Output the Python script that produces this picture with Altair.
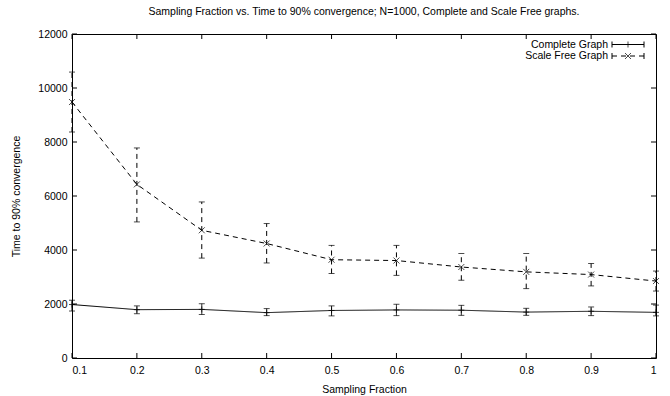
import altair as alt
import pandas as pd

fractions = [0.1, 0.2, 0.3, 0.4, 0.5, 0.6, 0.7, 0.8, 0.9, 1.0]
complete_mean = [1980, 1790, 1800, 1680, 1760, 1780, 1770, 1700, 1730, 1690]
complete_low = [1740, 1640, 1610, 1570, 1560, 1570, 1580, 1580, 1570, 1560]
complete_high = [2140, 1930, 2010, 1830, 1930, 1990, 1950, 1840, 1890, 1960]
sf_mean = [9480, 6430, 4730, 4240, 3640, 3610, 3370, 3190, 3090, 2850]
sf_low = [8370, 5040, 3700, 3520, 3130, 3060, 2880, 2570, 2670, 2480]
sf_high = [10590, 7780, 5780, 4980, 4170, 4170, 3870, 3870, 3500, 3220]
series_names = ["Complete Graph", "Scale Free Graph"]
x_ticks = [0.1, 0.2, 0.3, 0.4, 0.5, 0.6, 0.7, 0.8, 0.9, 1.0]
y_ticks = [0, 2000, 4000, 6000, 8000, 10000, 12000]

FONT = "Liberation Sans"
FS = 10.5
W, H = 584, 324
PLUS = "M-1,0L1,0M0,-1L0,1"
CROSS = "M-1,-1L1,1M-1,1L1,-1"

rows = []
for i, f in enumerate(fractions):
    rows.append(dict(f=f, s=series_names[0], m=complete_mean[i], lo=complete_low[i], hi=complete_high[i]))
    rows.append(dict(f=f, s=series_names[1], m=sf_mean[i], lo=sf_low[i], hi=sf_high[i]))
df = pd.DataFrame(rows)

xs = alt.Scale(domain=[0.1, 1.0], nice=False, zero=False)
ys = alt.Scale(domain=[0, 12000], nice=False)
dash = alt.StrokeDash("s:N", scale=alt.Scale(domain=series_names, range=[[1, 0], [5, 4]]), legend=None)

xaxis = alt.Axis(values=x_ticks, labelExpr="datum.value == 1 ? '1' : format(datum.value, '.1f')",
                 title="Sampling Fraction", labelPadding=7, titleY=34, titleBaseline="alphabetic",
                 ticks=False, domain=False, grid=False)
yaxis = alt.Axis(values=y_ticks, format="d", title="Time to 90% convergence", labelPadding=5,
                 titleX=-56, titleY=H / 2, titleBaseline="middle", titleAlign="center",
                 ticks=False, domain=False, grid=False)

base = alt.Chart(df)
line = base.mark_line(color="black", strokeWidth=1).encode(
    x=alt.X("f:Q", scale=xs, axis=xaxis), y=alt.Y("m:Q", scale=ys, axis=yaxis), strokeDash=dash,
    detail="s:N")
err = base.mark_rule(color="black", strokeWidth=1).encode(
    x=alt.X("f:Q", scale=xs), y=alt.Y("lo:Q", scale=ys), y2="hi:Q", strokeDash=dash)
cap_lo = base.mark_tick(color="black", orient="horizontal", size=6, thickness=1).encode(
    x=alt.X("f:Q", scale=xs), y=alt.Y("lo:Q", scale=ys))
cap_hi = base.mark_tick(color="black", orient="horizontal", size=6, thickness=1).encode(
    x=alt.X("f:Q", scale=xs), y=alt.Y("hi:Q", scale=ys))
pts = base.mark_point(color="black", filled=False, strokeWidth=1, size=36).encode(
    x=alt.X("f:Q", scale=xs), y=alt.Y("m:Q", scale=ys),
    shape=alt.Shape("s:N", scale=alt.Scale(domain=series_names, range=[PLUS, CROSS]), legend=None))

# inward mirrored ticks
xt = pd.DataFrame({"t": x_ticks})
yt = pd.DataFrame({"t": y_ticks})
tb = alt.Chart(xt).mark_rule(color="black", strokeWidth=1).encode(
    x=alt.X("t:Q", scale=xs), y=alt.value(H), y2=alt.value(H - 5))
tt = alt.Chart(xt).mark_rule(color="black", strokeWidth=1).encode(
    x=alt.X("t:Q", scale=xs), y=alt.value(0), y2=alt.value(5))
tl = alt.Chart(yt).mark_rule(color="black", strokeWidth=1).encode(
    y=alt.Y("t:Q", scale=ys), x=alt.value(0), x2=alt.value(5))
tr = alt.Chart(yt).mark_rule(color="black", strokeWidth=1).encode(
    y=alt.Y("t:Q", scale=ys), x=alt.value(W), x2=alt.value(W - 5))

# key
r1, r2 = 10.5, 22
kx0, kx1 = 540, 572
kc = (kx0 + kx1) / 2
leg = []
for name, ry, d, shp in [(series_names[0], r1, [1, 0], PLUS), (series_names[1], r2, [5, 4], CROSS)]:
    kd = pd.DataFrame({"s": [name]})
    k = alt.Chart(kd)
    leg.append(k.mark_text(align="right", baseline="middle", font=FONT, fontSize=FS, color="black").encode(
        text="s:N", x=alt.value(kx0 - 4), y=alt.value(ry)))
    leg.append(k.mark_rule(color="black", strokeWidth=1, strokeDash=d).encode(
        x=alt.value(kx0), x2=alt.value(kx1), y=alt.value(ry)))
    leg.append(k.mark_rule(color="black", strokeWidth=1).encode(
        x=alt.value(kx0), y=alt.value(ry - 3), y2=alt.value(ry + 3)))
    leg.append(k.mark_rule(color="black", strokeWidth=1).encode(
        x=alt.value(kx1), y=alt.value(ry - 3), y2=alt.value(ry + 3)))
    leg.append(k.mark_point(color="black", filled=False, strokeWidth=1, size=36, shape=shp).encode(
        x=alt.value(kc), y=alt.value(ry)))

chart = alt.layer(line, err, cap_lo, cap_hi, pts, tb, tt, tl, tr, *leg).properties(
    width=W, height=H,
    background="white",
    autosize=alt.AutoSizeParams(type="none"),
    padding={"left": 72, "top": 34, "right": 14, "bottom": 38},
    title=alt.TitleParams("Sampling Fraction vs. Time to 90% convergence; N=1000, Complete and Scale Free graphs.",
                          font=FONT, fontSize=FS, fontWeight="normal", color="black",
                          anchor="middle", baseline="alphabetic", offset=4),
).configure_view(stroke="black", strokeWidth=1).configure_axis(
    grid=False, domain=False, ticks=False, labelFont=FONT, labelFontSize=FS, labelColor="black",
    titleFont=FONT, titleFontSize=FS, titleFontWeight="normal", titleColor="black"
)

chart.save("out.html", embed_options={"renderer": "svg", "actions": False})
